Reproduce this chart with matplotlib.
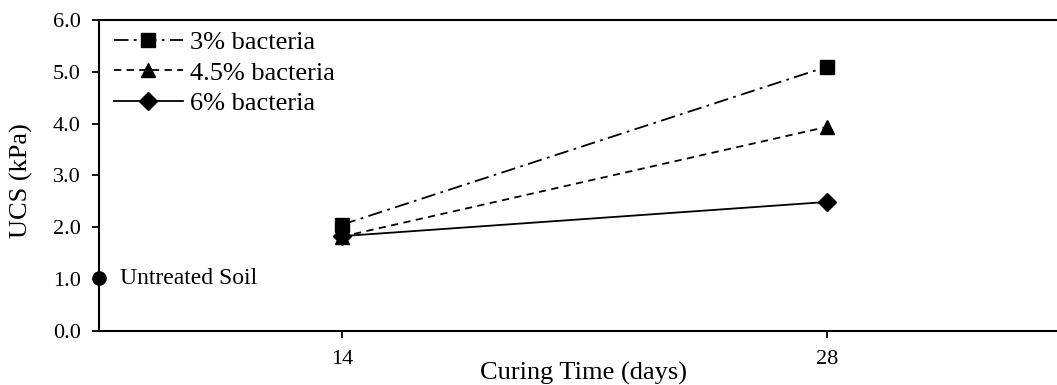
import matplotlib
matplotlib.use("Agg")
import matplotlib.pyplot as plt

# Curing time (days) and unconfined compressive strength (kPa)
days = [14, 28]
ucs_3 = [2.05, 5.10]
ucs_45 = [1.82, 3.94]
ucs_6 = [1.83, 2.49]
untreated_x = 7
untreated_ucs = 1.02

labels = ["3% bacteria", "4.5% bacteria", "6% bacteria"]
yticks = [0.0, 1.0, 2.0, 3.0, 4.0, 5.0, 6.0]

plt.rcParams["font.family"] = ["Liberation Serif", "DejaVu Serif"]

W, H = 1057, 385
fig = plt.figure(figsize=(W / 100, H / 100), dpi=100)
ax = fig.add_axes([99 / W, 1 - 331 / H, (1070 - 99) / W, (331 - 20) / H])

ax.plot(days, ucs_3, color="black", lw=1.3, ls=(0, (8, 3, 1.5, 3)),
        marker="s", ms=10, label=labels[0])
ax.plot(days, ucs_45, color="black", lw=1.3, ls=(0, (4, 3)),
        marker="^", ms=10, label=labels[1])
ax.plot(days, ucs_6, color="black", lw=1.3, ls="-",
        marker="D", ms=9.5, label=labels[2])
ax.plot([untreated_x], [untreated_ucs], marker="o", ms=9.5, color="black",
        ls="none", clip_on=False, zorder=5)
ax.text(untreated_x + 0.6, untreated_ucs, "Untreated Soil", fontsize=17,
        va="center", ha="left")

ax.set_xlim(7, 35)
ax.set_ylim(0, 6)
ax.set_xticks(days)
ax.set_xticklabels([str(d) for d in days])
ax.set_yticks(yticks)
ax.set_yticklabels([f"{v:.1f}" for v in yticks])
ax.tick_params(axis="both", direction="out", length=5, width=1.3,
               labelsize=16, colors="black")
ax.tick_params(axis="x", pad=9)
ax.tick_params(axis="y", pad=8)

for side in ["left", "bottom", "top"]:
    ax.spines[side].set_linewidth(1.5)
ax.spines["right"].set_visible(False)

ax.set_xlabel("Curing Time (days)", fontsize=19)
ax.xaxis.set_label_coords(0.4985, -0.098)
ax.set_ylabel("UCS (kPa)", fontsize=19)
ax.yaxis.set_label_coords(-0.068, 0.485)

ax.legend(loc="upper left", frameon=False, fontsize=19, handlelength=2.6,
          handletextpad=0.27, labelspacing=0.27, borderaxespad=0.0,
          bbox_to_anchor=(0.0046, 1.0))

fig.savefig("out.png", dpi=100)
